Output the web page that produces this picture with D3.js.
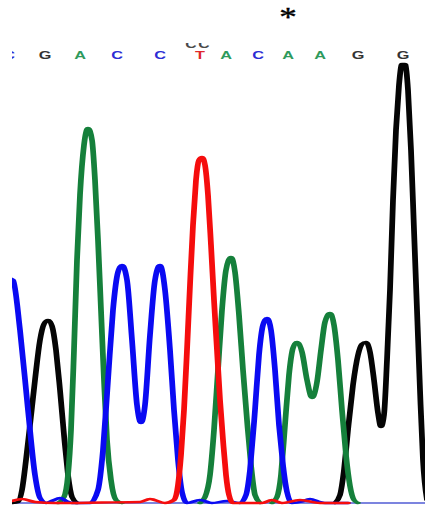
<!DOCTYPE html>
<html>
<head>
<meta charset="utf-8">
<script src="https://cdn.jsdelivr.net/npm/d3@7"></script>
<style>
  html, body { margin: 0; padding: 0; background: #fff; }
  svg { display: block; }
</style>
</head>
<body>
<svg id="chart" width="425" height="508"></svg>
<script>
// Base calls along the read and their scan positions
const baseCalls = ["C", "G", "A", "C", "C", "T", "A", "C", "A", "A", "G", "G"];
const basePos   = [-6, 66, 136, 210, 296, 376, 428, 492, 552, 616, 692, 782];

// Secondary calls shown above the main row (partly cut off)
const upperCalls = ["C", "C"];
const upperPos   = [358, 384];

// Position flagged with an asterisk
const markerPos = [552];

// Trace samples per dye channel: [scan, signal]; null breaks the line
const traceG = [
  [0, 0], [12, 4], [20, 52], [28, 172], [36, 312], [46, 492], [56, 652], [64, 716], [72, 732],
  [80, 708], [88, 612], [96, 452], [104, 272], [112, 112], [120, 24], [130, 0], null,
  [646, 0], [656, 32], [664, 132], [672, 292], [682, 472], [692, 592], [700, 636], [708, 644],
  [716, 604], [724, 492], [732, 360], [738, 304], [744, 352], [750, 572], [756, 852], [762, 1212],
  [768, 1492], [774, 1672], [780, 1756], [786, 1756], [792, 1652], [798, 1412], [804, 1092],
  [810, 772], [816, 452], [822, 172], [830, 12]
];

const traceA = [
  [92, 0], [104, 24], [112, 112], [118, 292], [124, 612], [130, 972], [136, 1232], [144, 1432],
  [152, 1500], [160, 1452], [166, 1292], [172, 1052], [178, 772], [184, 492], [190, 252],
  [198, 92], [208, 12], [220, 0], null,
  [376, 0], [386, 24], [396, 112], [404, 292], [412, 532], [420, 772], [428, 932], [438, 984],
  [446, 924], [454, 752], [462, 532], [470, 332], [478, 152], [486, 32], [496, 0], null,
  [520, 0], [530, 24], [538, 112], [546, 312], [554, 512], [562, 620], [570, 644], [580, 604],
  [590, 492], [600, 420], [610, 484], [618, 612], [626, 724], [636, 760], [644, 712], [652, 572],
  [660, 372], [668, 192], [676, 68], [684, 12], [692, 0]
];

const traceC = [
  [-6, 900], [2, 892], [16, 692], [32, 372], [46, 112], [56, 20], [68, 0], [82, 10], [96, 20],
  [110, 6], [120, 0], [156, 0], [172, 52], [182, 212], [192, 492], [202, 772], [212, 924],
  [220, 952], [230, 892], [240, 652], [250, 392], [258, 320], [266, 392], [276, 672], [286, 892],
  [296, 952], [306, 852], [316, 612], [324, 372], [332, 172], [340, 44], [350, 0], [376, 12],
  [400, 0], [430, 8], [456, 0], [468, 32], [476, 132], [486, 372], [494, 592], [502, 712],
  [510, 740], [518, 692], [526, 532], [534, 312], [542, 152], [550, 44], [560, 0], [580, 6],
  [596, 16], [612, 6], [626, 0], [672, 0]
];

const traceT = [
  [0, 8], [20, 16], [46, 4], [86, 0], [180, 2], [256, 4], [276, 16], [306, 0], [324, 12],
  [332, 72], [338, 192], [344, 372], [350, 612], [356, 872], [362, 1112], [368, 1292], [374, 1372],
  [380, 1384], [386, 1352], [392, 1232], [398, 1032], [404, 812], [410, 612], [416, 412],
  [422, 252], [428, 112], [434, 32], [442, 0], [500, 0], [520, 12], [540, 0], [576, 12],
  [616, 0], [672, 0]
];

const dyeColor = { A: "#15803b", C: "#0a0af2", G: "#050505", T: "#f50d0d" };
const callColor = { A: "#2f9a5c", C: "#2c2cd4", G: "#333333", T: "#e0272b" };

const W = 425, H = 508;
const svg = d3.select("#chart");

// Scales: scan index -> x pixels, signal -> y pixels
const x = d3.scaleLinear().domain([0, 830]).range([12, 427]);
const y = d3.scaleLinear().domain([0, 2000]).range([503, 3]);

// Traces are drawn in a horizontally stretched space so that steep flanks
// come out thicker than the flat baseline.
const sx = 2.4;
const xt = x.copy().range(x.range().map(v => v / sx));

const defs = svg.append("defs");
defs.append("clipPath").attr("id", "plotClip")
  .append("rect").attr("x", 12).attr("y", 0).attr("width", W - 12).attr("height", H);
defs.append("clipPath").attr("id", "upperClip")
  .append("rect").attr("x", 12).attr("y", 43).attr("width", W - 12).attr("height", 10);

const plot = svg.append("g").attr("clip-path", "url(#plotClip)");

// Baseline
plot.append("line")
  .attr("x1", x(0)).attr("x2", W)
  .attr("y1", y(0)).attr("y2", y(0))
  .attr("stroke", "#7c84df").attr("stroke-width", 2.2);

const traces = plot.append("g").attr("transform", `scale(${sx},1)`);
const line = d3.line()
  .defined(d => d !== null)
  .x(d => xt(d[0]))
  .y(d => y(d[1]))
  .curve(d3.curveMonotoneX);

[["G", traceG], ["A", traceA], ["C", traceC], ["T", traceT]].forEach(([dye, data]) => {
  traces.append("path")
    .datum(data)
    .attr("d", line)
    .attr("fill", "none")
    .attr("stroke", dyeColor[dye])
    .attr("stroke-width", 2.4)
    .attr("stroke-linejoin", "round")
    .attr("stroke-linecap", "round");
});

// Base-call row
plot.append("g").selectAll("text")
  .data(baseCalls.map((b, i) => ({ b, p: basePos[i] })))
  .join("text")
  .attr("transform", d => `translate(${x(d.p)},59) scale(1.55,1)`)
  .attr("text-anchor", "middle")
  .attr("font-family", "Liberation Sans, Arial, sans-serif")
  .attr("font-weight", "bold")
  .attr("font-size", 10.5)
  .attr("fill", d => callColor[d.b])
  .text(d => d.b);

// Secondary calls, cut at the top
svg.append("g").attr("clip-path", "url(#upperClip)").selectAll("text")
  .data(upperCalls.map((b, i) => ({ b, p: upperPos[i] })))
  .join("text")
  .attr("transform", d => `translate(${x(d.p)},47.5) scale(1.5,1)`)
  .attr("text-anchor", "middle")
  .attr("font-family", "Liberation Sans, Arial, sans-serif")
  .attr("font-weight", "bold")
  .attr("font-size", 10.5)
  .attr("fill", "#4a4a4a")
  .text(d => d.b);

// Asterisk marker
svg.selectAll("text.marker")
  .data(markerPos)
  .join("text")
  .attr("class", "marker")
  .attr("transform", d => `translate(${x(d)},26) scale(1.25,1)`)
  .attr("text-anchor", "middle")
  .attr("font-family", "Liberation Serif, Times New Roman, serif")
  .attr("font-size", 28)
  .attr("fill", "#000")
  .attr("stroke", "#000")
  .attr("stroke-width", 0.4)
  .text("*");
</script>
</body>
</html>
